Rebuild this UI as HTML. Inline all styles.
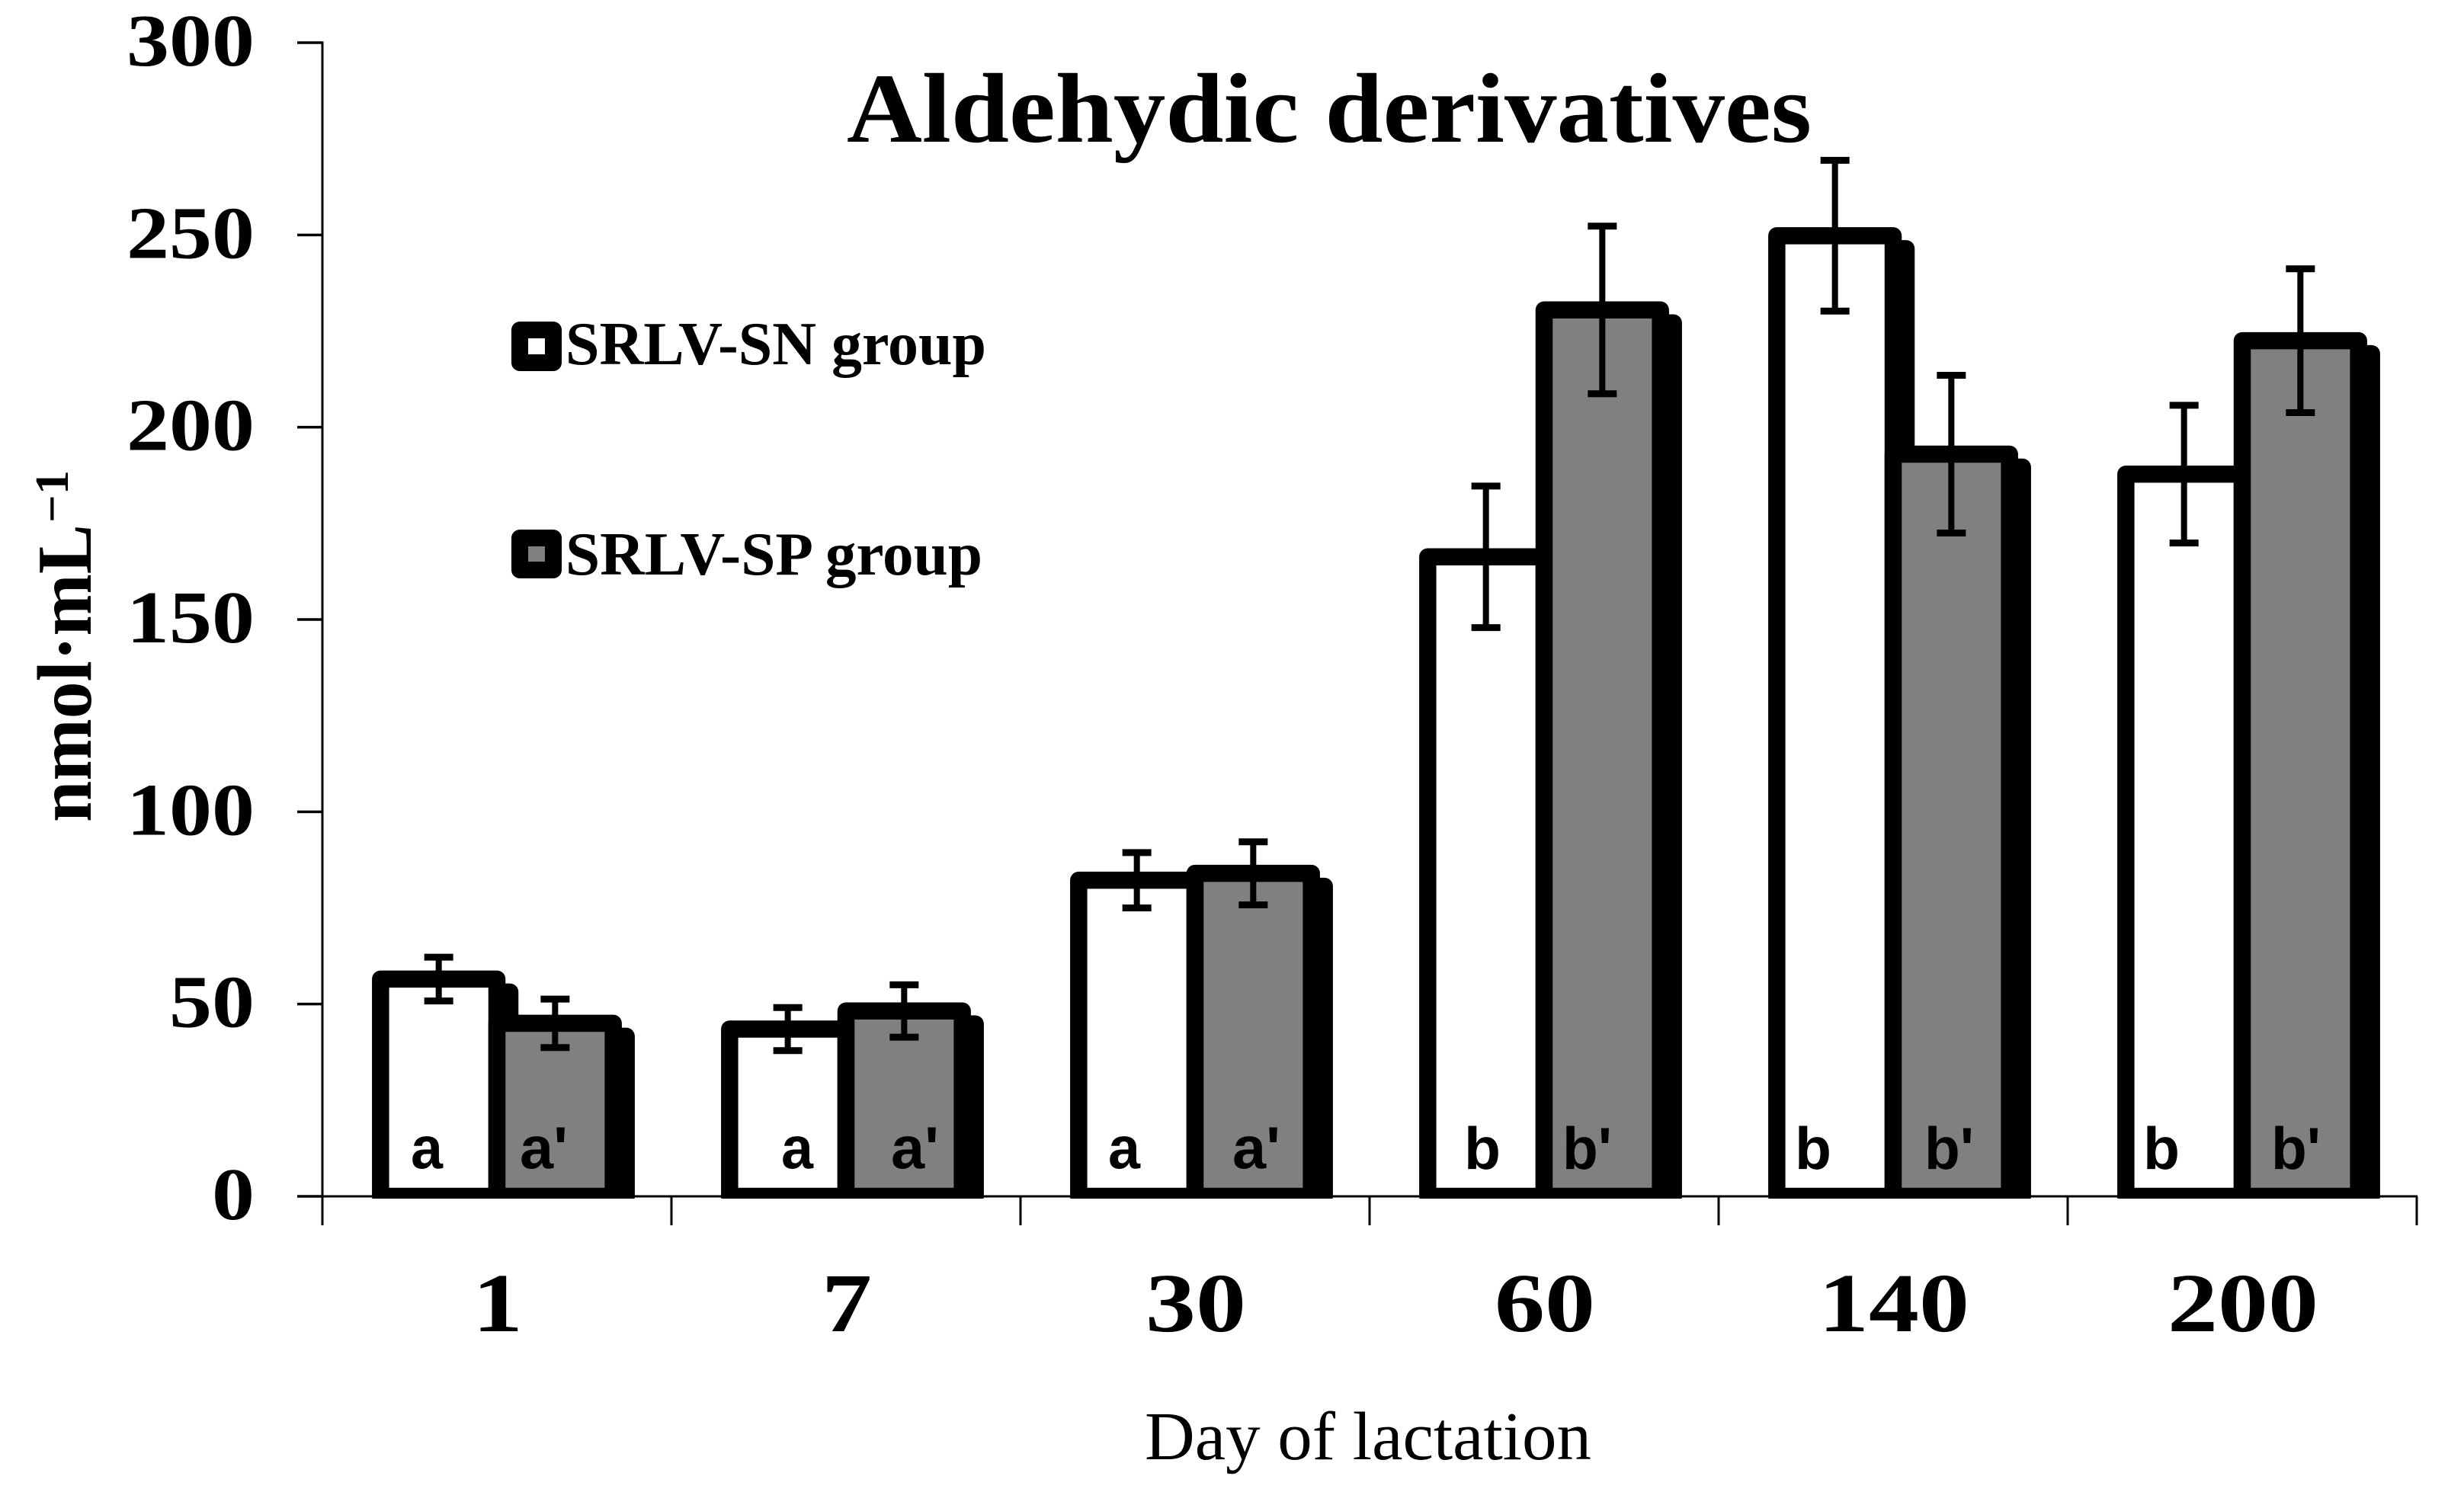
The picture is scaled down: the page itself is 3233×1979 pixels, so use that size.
<!DOCTYPE html>
<html lang="en">
<head>
<meta charset="utf-8">
<title>Aldehydic derivatives</title>
<style>
html,body{margin:0;padding:0;background:#fff;}
svg{display:block;}
text{fill:#000;}
.serif{font-family:"Liberation Serif",serif;}
.sans{font-family:"Liberation Sans",sans-serif;font-weight:700;font-size:78px;}
</style>
</head>
<body>
<svg id="chart" xmlns="http://www.w3.org/2000/svg" width="3233" height="1979" viewBox="0 0 3233 1979">
  <rect x="0" y="0" width="3233" height="1979" fill="#fff"/>
  <defs>
    <clipPath id="plot-clip"><rect x="0" y="0" width="3233" height="1573"/></clipPath>
  </defs>
  <g id="bars" clip-path="url(#plot-clip)"></g>
  <g id="axes"></g>
  <g id="errors"></g>

  <text class="serif" x="1111" y="186" font-size="130" font-weight="700" textLength="1266" lengthAdjust="spacingAndGlyphs">Aldehydic derivatives</text>
  <text class="serif" transform="translate(119,1079) rotate(-90)" font-size="102" font-weight="700" textLength="391" lengthAdjust="spacingAndGlyphs">nmol·mL</text>
  <text class="serif" transform="translate(89,686) rotate(-90)" font-size="62" font-weight="700" textLength="69" lengthAdjust="spacingAndGlyphs">−1</text>
  <text class="serif" x="1502" y="1915" font-size="90" textLength="586" lengthAdjust="spacingAndGlyphs">Day of lactation</text>

  <g>
    <g>
      <rect x="682" y="433" width="44" height="43" fill="#fff" stroke="#000" stroke-width="22" stroke-linejoin="round"/>
      <text class="serif" x="742" y="478" font-size="80" font-weight="700" textLength="552" lengthAdjust="spacingAndGlyphs">SRLV-SN group</text>
    </g>
    <g>
      <rect x="682" y="706" width="44" height="42" fill="#808080" stroke="#000" stroke-width="22" stroke-linejoin="round"/>
      <text class="serif" x="742" y="754" font-size="80" font-weight="700" textLength="547" lengthAdjust="spacingAndGlyphs">SRLV-SP group</text>
    </g>
  </g>

  <g>
    <text class="sans" x="539" y="1533" textLength="42" lengthAdjust="spacingAndGlyphs">a</text>
    <text class="sans" x="682" y="1533" textLength="63" lengthAdjust="spacingAndGlyphs">a'</text>
    <text class="sans" x="1025" y="1533" textLength="42" lengthAdjust="spacingAndGlyphs">a</text>
    <text class="sans" x="1169" y="1533" textLength="63" lengthAdjust="spacingAndGlyphs">a'</text>
    <text class="sans" x="1454" y="1533" textLength="42" lengthAdjust="spacingAndGlyphs">a</text>
    <text class="sans" x="1617" y="1533" textLength="63" lengthAdjust="spacingAndGlyphs">a'</text>
    <text class="sans" x="1921" y="1534" textLength="48" lengthAdjust="spacingAndGlyphs">b</text>
    <text class="sans" x="2050" y="1534" textLength="65" lengthAdjust="spacingAndGlyphs">b'</text>
    <text class="sans" x="2355" y="1534" textLength="48" lengthAdjust="spacingAndGlyphs">b</text>
    <text class="sans" x="2525" y="1534" textLength="65" lengthAdjust="spacingAndGlyphs">b'</text>
    <text class="sans" x="2812" y="1534" textLength="48" lengthAdjust="spacingAndGlyphs">b</text>
    <text class="sans" x="2980" y="1534" textLength="65" lengthAdjust="spacingAndGlyphs">b'</text>
  </g>
</svg>
<script>
var categories = ['1', '7', '30', '60', '140', '200'];
var snValues = [56.5, 43.5, 82.2, 166.3, 249.8, 187.8];
var spValues = [45, 48.2, 84, 230.5, 193, 222.5];
var snErrors = [5.7, 5.6, 7.2, 18.4, 19.6, 17.9];
var spErrors = [6.3, 6.8, 8.2, 21.8, 20.5, 18.7];
var yTicks = [0, 50, 100, 150, 200, 250, 300];
var yMax = 300;

var NS = 'http://www.w3.org/2000/svg';
var plotLeft = 423, plotRight = 3171, plotTop = 56, plotBottom = 1570;
var band = (plotRight - plotLeft) / categories.length;
var barWidth = band / 3;
var strokeW = 22.5, shadowOffset = 17;

function yScale(v) { return plotBottom - (v / yMax) * (plotBottom - plotTop); }
function xBand(i) { return plotLeft + i * band; }
function xBar(i, s) { return xBand(i) + band / 2 + (s - 1) * barWidth; }

function make(tag, attrs, parent) {
  var el = document.createElementNS(NS, tag);
  for (var k in attrs) { el.setAttribute(k, attrs[k]); }
  parent.appendChild(el);
  return el;
}

var barsG = document.getElementById('bars');
var axesG = document.getElementById('axes');
var errG = document.getElementById('errors');

function drawSeries(values, s, fill, seriesName) {
  values.forEach(function (v, i) {
    var top = yScale(v);
    var x = xBar(i, s);
    var h = plotBottom - top;
    var shadow = make('rect', {x: x + shadowOffset, y: top + shadowOffset, width: barWidth, height: Math.max(0, h - shadowOffset), fill: '#000', stroke: '#000', 'stroke-width': strokeW, 'stroke-linejoin': 'round'}, barsG);
    
    
    var bar = make('rect', {x: x, y: top, width: barWidth, height: h, fill: fill, stroke: '#000', 'stroke-width': strokeW, 'stroke-linejoin': 'round'}, barsG);
    
    
  });
}
drawSeries(snValues, 0, '#fff', 'srlv-sn');
drawSeries(spValues, 1, '#808080', 'srlv-sp');

function drawErrors(values, errors, s, seriesName) {
  values.forEach(function (v, i) {
    var cx = xBar(i, s) + barWidth / 2;
    var hi = yScale(v + errors[i]);
    var lo = yScale(v - errors[i]);
    var g = make('g', {}, errG);
    
    
    make('line', {x1: cx, x2: cx, y1: hi, y2: lo, stroke: '#000', 'stroke-width': 8}, g);
    make('line', {x1: cx - 19, x2: cx + 19, y1: hi, y2: hi, stroke: '#000', 'stroke-width': 9}, g);
    make('line', {x1: cx - 19, x2: cx + 19, y1: lo, y2: lo, stroke: '#000', 'stroke-width': 9}, g);
  });
}
drawErrors(snValues, snErrors, 0, 'srlv-sn');
drawErrors(spValues, spErrors, 1, 'srlv-sp');

var yAxisLine = make('line', {x1: plotLeft, x2: plotLeft, y1: plotTop - 1.5, y2: 1608, stroke: '#000', 'stroke-width': 3}, axesG);


var xAxisLine = make('line', {x1: 390, x2: plotRight + 1, y1: plotBottom, y2: plotBottom, stroke: '#000', 'stroke-width': 3}, axesG);



yTicks.forEach(function (t) {
  var y = yScale(t);
  var tick = make('line', {x1: 390, x2: plotLeft, y1: y, y2: y, stroke: '#000', 'stroke-width': 3.5}, axesG);
  
  
  var label = String(t);
  var txt = make('text', {x: 334, y: y + 30, 'text-anchor': 'end', 'class': 'serif', 'font-size': 98, 'font-weight': 700, textLength: label.length * 56, lengthAdjust: 'spacingAndGlyphs'}, axesG);
  txt.textContent = label;
  
  
});

for (var b = 1; b <= categories.length; b++) {
  var tx = xBand(b);
  var xt = make('line', {x1: tx, x2: tx, y1: plotBottom, y2: 1608, stroke: '#000', 'stroke-width': 3}, axesG);
  
  
}

categories.forEach(function (c, i) {
  var cx = xBand(i) + band / 2;
  var txt = make('text', {x: cx + 1, y: 1747, 'text-anchor': 'middle', 'class': 'serif', 'font-size': 110, 'font-weight': 700, textLength: c.length * 66, lengthAdjust: 'spacingAndGlyphs'}, axesG);
  txt.textContent = c;
  
  
});
</script>
</body>
</html>
